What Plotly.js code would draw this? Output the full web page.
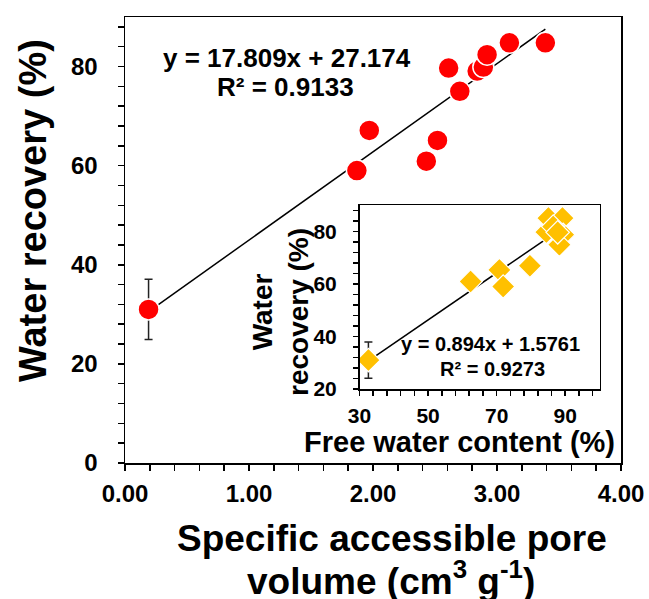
<!DOCTYPE html>
<html>
<head>
<meta charset="utf-8">
<script src="https://cdn.plot.ly/plotly-3.0.1.min.js"></script>
<style>html,body{margin:0;padding:0;background:#fff;}#chart{width:649px;height:599px;}</style>
</head>
<body>
<div id="chart"></div>
<script>
// ---- Main chart data: specific accessible pore volume vs water recovery ----
var poreVolume = [0.19, 1.87, 1.97, 2.43, 2.52, 2.61, 2.70, 2.84, 2.89, 2.92, 3.10, 3.39];
var recoveryMain = [31.0, 59.0, 67.1, 60.9, 65.1, 79.7, 75.0, 79.1, 79.9, 82.4, 84.8, 84.8];
var recoveryMainErr = [6.1, NaN, NaN, NaN, NaN, NaN, NaN, NaN, NaN, NaN, NaN, NaN];
var mainSlope = 17.809, mainIntercept = 27.174;
var mainEquation = ["y = 17.809x + 27.174", "R\u00b2 = 0.9133"];

// ---- Inset data: free water content vs water recovery ----
var freeWater = [32.6, 62.4, 70.8, 71.9, 79.7, 84.5, 85.1, 89.2, 89.4, 88.3, 86.5, 87.8];
var recoveryInset = [31.0, 60.9, 65.3, 59.0, 66.9, 79.7, 85.0, 85.0, 78.7, 74.9, 81.8, 79.6];
var recoveryInsetErr = [6.9, NaN, NaN, NaN, NaN, NaN, NaN, NaN, NaN, NaN, NaN, NaN];
var insetSlope = 0.894, insetIntercept = 1.5761;
var insetEquation = ["y = 0.894x + 1.5761", "R\u00b2 = 0.9273"];

// tick labels
var mainXTicks = [0, 1, 2, 3, 4];
var mainXTickText = ["0.00", "1.00", "2.00", "3.00", "4.00"];
var mainYTicks = [0, 20, 40, 60, 80];
var insetXTicks = [30, 50, 70, 90];
var insetYTicks = [20, 40, 60, 80];

var FONT = "Liberation Sans, Arial, Helvetica, sans-serif";

function fitLine(xs, m, b) {
  var lo = Math.min.apply(null, xs), hi = Math.max.apply(null, xs);
  return {x: [lo, hi], y: [m * lo + b, m * hi + b]};
}
var mainFit = fitLine(poreVolume, mainSlope, mainIntercept);
var insetFit = fitLine(freeWater, insetSlope, insetIntercept);

var traces = [
  {x: mainFit.x, y: mainFit.y, type: "scatter", mode: "lines",
   line: {color: "#000", width: 1.5}, xaxis: "x", yaxis: "y", hoverinfo: "skip"},
  {x: poreVolume, y: recoveryMain, type: "scatter", mode: "markers",
   marker: {symbol: "circle", size: 21, color: "#FF0000", line: {color: "#fff", width: 1.5}},
   error_y: {type: "data", array: recoveryMainErr, visible: true, color: "#222", thickness: 1.5, width: 4},
   xaxis: "x", yaxis: "y"},
  {x: insetFit.x, y: insetFit.y, type: "scatter", mode: "lines",
   line: {color: "#000", width: 1.5}, xaxis: "x2", yaxis: "y2", hoverinfo: "skip"},
  {x: freeWater, y: recoveryInset, type: "scatter", mode: "markers",
   marker: {symbol: "diamond", size: 18, color: "#FFC000", line: {color: "#fff", width: 1.2}},
   error_y: {type: "data", array: recoveryInsetErr, visible: true, color: "#222", thickness: 1.5, width: 4},
   xaxis: "x2", yaxis: "y2"}
];

function axisBase(extra) {
  var a = {
    showgrid: false, zeroline: false, showline: true, linecolor: "#000", linewidth: 1.5,
    mirror: true, ticks: "outside", tickcolor: "#000", tickwidth: 1.5, ticklen: 6,
    tickfont: {family: FONT, size: 24, color: "#000", weight: 700}
  };
  for (var k in extra) a[k] = extra[k];
  return a;
}

var W = 649, H = 599, ML = 125, MR = 28, MT = 17, MB = 136;
var PW = W - ML - MR, PH = H - MT - MB;
function px(x) { return (x - ML) / PW; }
function py(y) { return (H - MB - y) / PH; }

var layout = {
  width: W, height: H,
  margin: {l: ML, r: MR, t: MT, b: MB, pad: 0},
  paper_bgcolor: "#fff", plot_bgcolor: "#fff",
  showlegend: false,
  font: {family: FONT, color: "#000"},
  xaxis: axisBase({domain: [0, 1], range: [0, 4], tickmode: "array", tickvals: mainXTicks, ticktext: mainXTickText,
    ticklabelstandoff: 3,
    minor: {dtick: 0.2, tick0: 0, ticks: "outside", ticklen: 6, tickwidth: 1.5, tickcolor: "#000"}}),
  yaxis: axisBase({domain: [0, 1], range: [0, 90], tickmode: "array", tickvals: mainYTicks,
    ticklabelstandoff: 15,
    minor: {dtick: 4, tick0: 0, ticks: "outside", ticklen: 6, tickwidth: 1.5, tickcolor: "#000"}}),
  xaxis2: axisBase({anchor: "y2", domain: [px(359.5), px(599.5)], range: [30, 100], tickmode: "array", tickvals: insetXTicks,
    ticklen: 5, ticklabelstandoff: 2,
    tickfont: {family: FONT, size: 21, color: "#000", weight: 700},
    minor: {dtick: 4, tick0: 30, ticks: "outside", ticklen: 5, tickwidth: 1.5, tickcolor: "#000"}}),
  yaxis2: axisBase({anchor: "x2", domain: [py(389), py(205)], range: [20, 90], tickmode: "array", tickvals: insetYTicks,
    ticklen: 5, ticklabelstandoff: 12,
    tickfont: {family: FONT, size: 21, color: "#000", weight: 700},
    minor: {dtick: 4, tick0: 20, ticks: "outside", ticklen: 5, tickwidth: 1.5, tickcolor: "#000"}}),
  annotations: [
    {text: "Water recovery (%)", xref: "paper", yref: "paper", x: px(33), y: py(211), textangle: -90,
     showarrow: false, xanchor: "center", yanchor: "middle", font: {family: FONT, size: 38, weight: 700, color: "#000"}},
    {text: "Specific accessible pore", xref: "paper", yref: "paper", x: px(392), y: py(538),
     showarrow: false, xanchor: "center", yanchor: "middle", font: {family: FONT, size: 37, weight: 700, color: "#000"}},
    {text: "volume (cm<sup>3</sup> g<sup>-1</sup>)", xref: "paper", yref: "paper", x: px(391), y: py(578),
     showarrow: false, xanchor: "center", yanchor: "middle", font: {family: FONT, size: 37, weight: 700, color: "#000"}},
    {text: mainEquation[0], xref: "paper", yref: "paper", x: px(287), y: py(58),
     showarrow: false, xanchor: "center", yanchor: "middle", font: {family: FONT, size: 26, weight: 700, color: "#000"}},
    {text: mainEquation[1], xref: "paper", yref: "paper", x: px(285), y: py(87),
     showarrow: false, xanchor: "center", yanchor: "middle", font: {family: FONT, size: 26, weight: 700, color: "#000"}},
    {text: "Free water content (%)", xref: "paper", yref: "paper", x: px(459), y: py(442),
     showarrow: false, xanchor: "center", yanchor: "middle", font: {family: FONT, size: 29, weight: 700, color: "#000"}},
    {text: "Water<br>recovery (%)", xref: "paper", yref: "paper", x: px(280), y: py(312), textangle: -90,
     showarrow: false, xanchor: "center", yanchor: "middle", align: "center",
     font: {family: FONT, size: 28, weight: 700, color: "#000"}},
    {text: insetEquation[0], xref: "paper", yref: "paper", x: px(490.7), y: py(344),
     showarrow: false, xanchor: "center", yanchor: "middle", font: {family: FONT, size: 20, weight: 700, color: "#000"}},
    {text: insetEquation[1], xref: "paper", yref: "paper", x: px(492.5), y: py(369),
     showarrow: false, xanchor: "center", yanchor: "middle", font: {family: FONT, size: 20, weight: 700, color: "#000"}}
  ]
};

Plotly.newPlot("chart", traces, layout, {displayModeBar: false, staticPlot: true});
</script>
</body>
</html>
